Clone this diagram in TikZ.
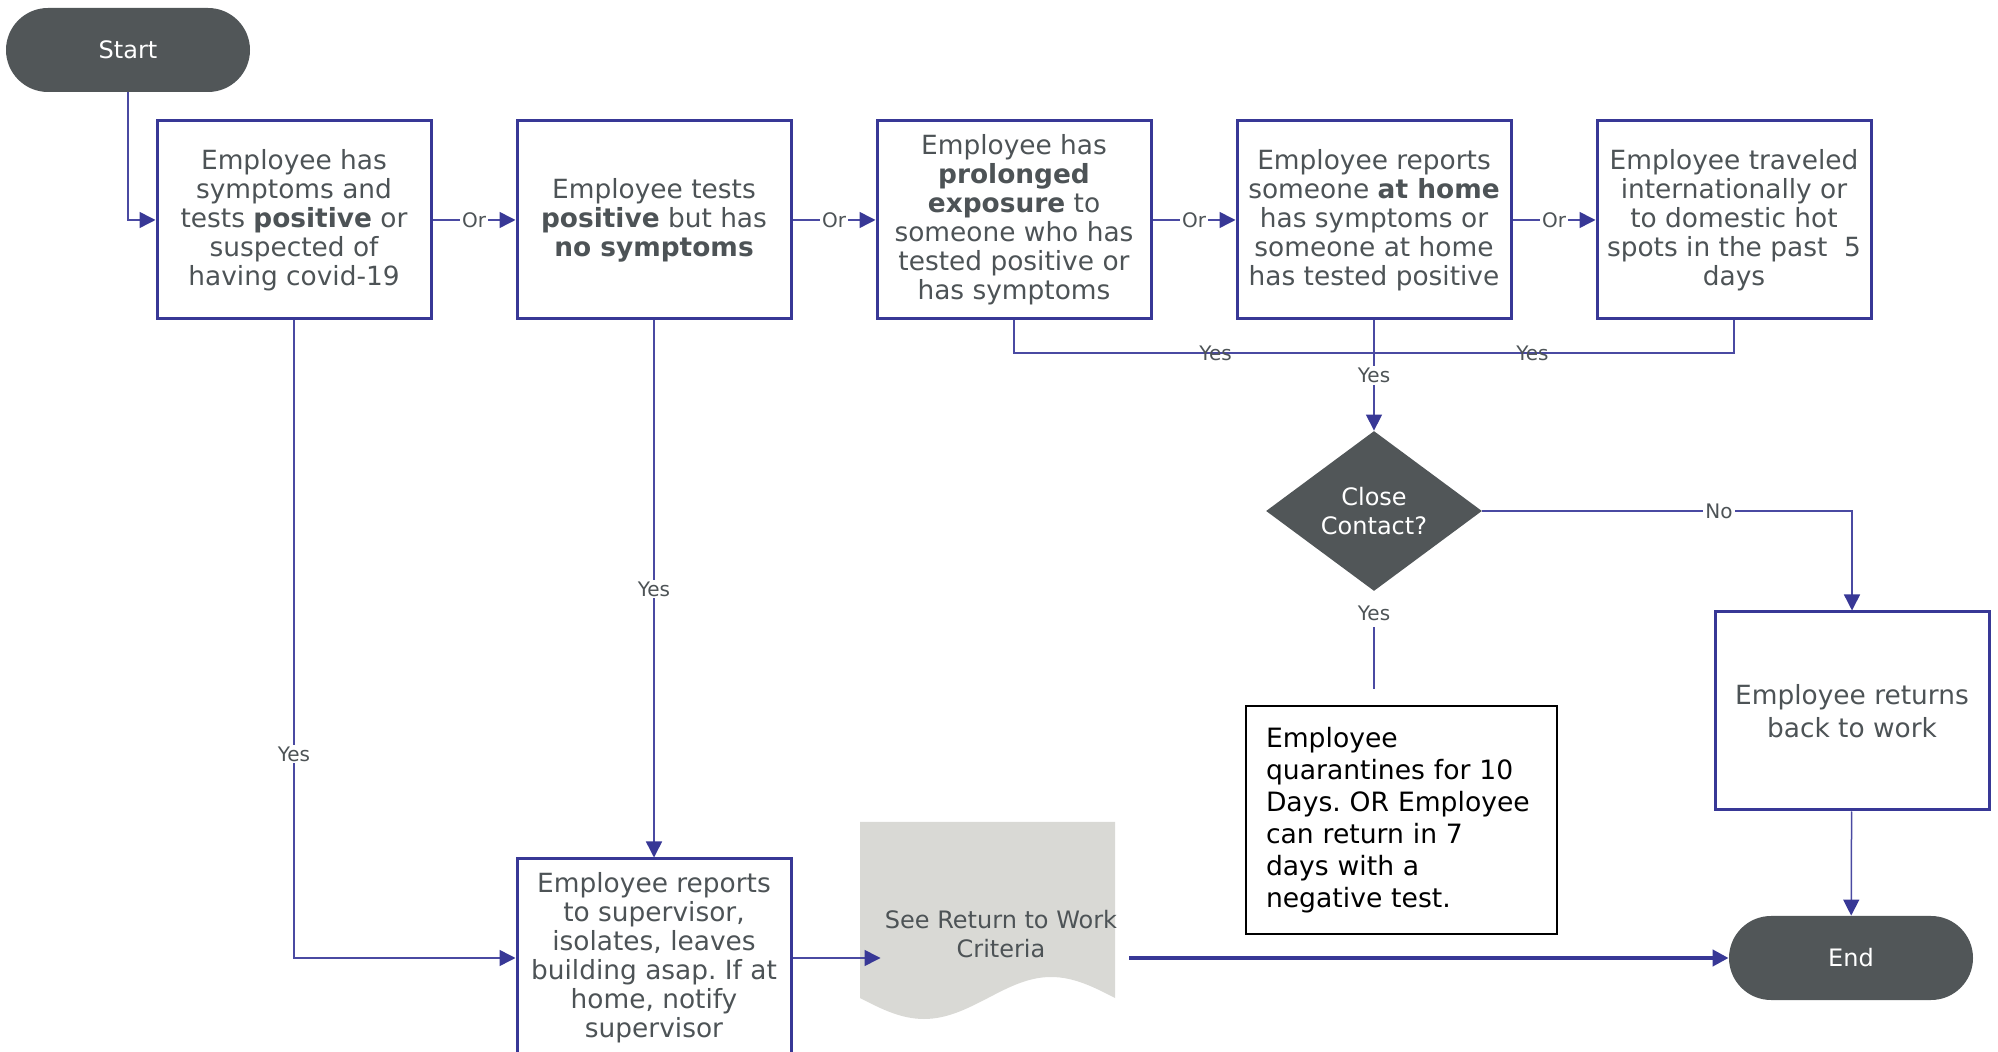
\documentclass[tikz,border=0pt]{standalone}
\usepackage{fontspec}
\setmainfont{DejaVu Sans}
\usetikzlibrary{shapes.geometric,arrows.meta}
\frenchspacing

\definecolor{navy}{RGB}{56,56,150}
\definecolor{wire}{RGB}{74,74,162}
\definecolor{ink}{RGB}{77,83,86}
\definecolor{slate}{RGB}{81,86,88}
\definecolor{paper}{RGB}{217,217,213}

\tikzset{
  box/.style={draw=navy,line width=1.5pt,minimum width=137pt,minimum height=99pt,
    inner sep=2pt,align=center,text=ink,font=\fontsize{13.2}{14.5}\selectfont},
  pill/.style={fill=slate,rounded corners=21pt,minimum width=122pt,
    minimum height=42pt,text=white,font=\fontsize{12}{14}\selectfont},
  wireln/.style={color=wire,line width=0.75pt},
  con/.style={wireln,-{Stealth[inset=0pt,length=8pt,width=8pt,color=navy]}},
  lbl/.style={fill=white,inner sep=1pt,text=ink,font=\fontsize{10}{12}\selectfont},
}

\begin{document}
\begin{tikzpicture}[x=0.5pt,y=-0.5pt]
  \useasboundingbox (0,0) rectangle (1998,1052);
  \clip (0,0) rectangle (1998,1052);

  \node[pill] (start) at (128,50) {Start};
  \node[box] (b1) at (294,220) {Employee has\\symptoms and\\tests \textbf{positive} or\\suspected of\\having covid-19};
  \node[box] (b2) at (654,220) {Employee tests\\\textbf{positive} but has\\\textbf{no symptoms}};
  \node[box] (b3) at (1014,220) {Employee has\\\textbf{prolonged}\\\textbf{exposure} to\\someone who has\\tested positive or\\has symptoms};
  \node[box] (b4) at (1374,220) {Employee reports\\someone \textbf{at home}\\has symptoms or\\someone at home\\has tested positive};
  \node[box] (b5) at (1734,220) {Employee traveled\\internationally or\\to domestic hot\\spots in the past \ 5\\days};
  \coordinate (mrg) at (1374,353);

  \node[diamond,fill=slate,text=white,aspect=1.35,minimum width=108pt,
    minimum height=80pt,inner sep=0pt,align=center,
    font=\fontsize{12}{14.5}\selectfont] (cc) at (1374,511) {Close\\Contact?};
  \node[box,font=\fontsize{13.2}{16.4}\selectfont] (ret) at (1852,711) {Employee returns\\back to work};
  \node[pill] (end) at (1851,958) {End};
  \node[draw=black,line width=1pt,minimum width=155.5pt,minimum height=114pt,
    text width=135pt,inner sep=2pt,align=left,
    font=\fontsize{13.3}{16}\selectfont] (qbox) at (1401,820)
    {Employee\\quarantines for 10\\Days. OR Employee\\can return in 7\\days with a\\negative test.};

  \node[box] (rep) at (654,958) {Employee reports\\to supervisor,\\isolates, leaves\\building asap. If at\\home, notify\\supervisor};
  \fill[paper] (860,822) -- (860,998) sin (924,1019) cos (988,998)
    sin (1051,977) cos (1115,998) -- (1115,822) -- cycle;
  \node[text=ink,align=center,inner sep=2pt,font=\fontsize{12}{14.6}\selectfont]
    (crit) at (1001,934) {See Return to Work\\Criteria};

  \draw[con] (start) |- (b1);
  \path[con] (b1) edge node[lbl] {Or} (b2)
             (b2) edge node[lbl] {Or} (b3)
             (b3) edge node[lbl] {Or} (b4)
             (b4) edge node[lbl] {Or} (b5)
             (b4) edge node[lbl] {Yes} (cc);
  \draw[wireln] (b3) |- node[lbl,fill=none,pos=0.78] {Yes} (mrg);
  \draw[wireln] (b5) |- node[lbl,fill=none,pos=0.78] {Yes} (mrg);
  \draw[con] (cc) -| node[lbl,pos=0.32] {No} (ret);
  \draw[wireln,shorten <=18pt,shorten >=8pt] (cc.south) -- node[lbl,pos=0.19] {Yes} (cc.south |- qbox.north);
  \draw[con] (ret) -- (end);
  \draw[con] (b1) |- node[lbl,pos=0.34] {Yes} (rep);
  \draw[con] (b2) -- node[lbl] {Yes} (rep);
  \draw[con] (rep.east) -- (rep.east -| crit.west);
  \draw[con,color=navy,line width=2pt,shorten <=4pt] (crit.east |- end.west) -- (end.west);
\end{tikzpicture}
\end{document}
